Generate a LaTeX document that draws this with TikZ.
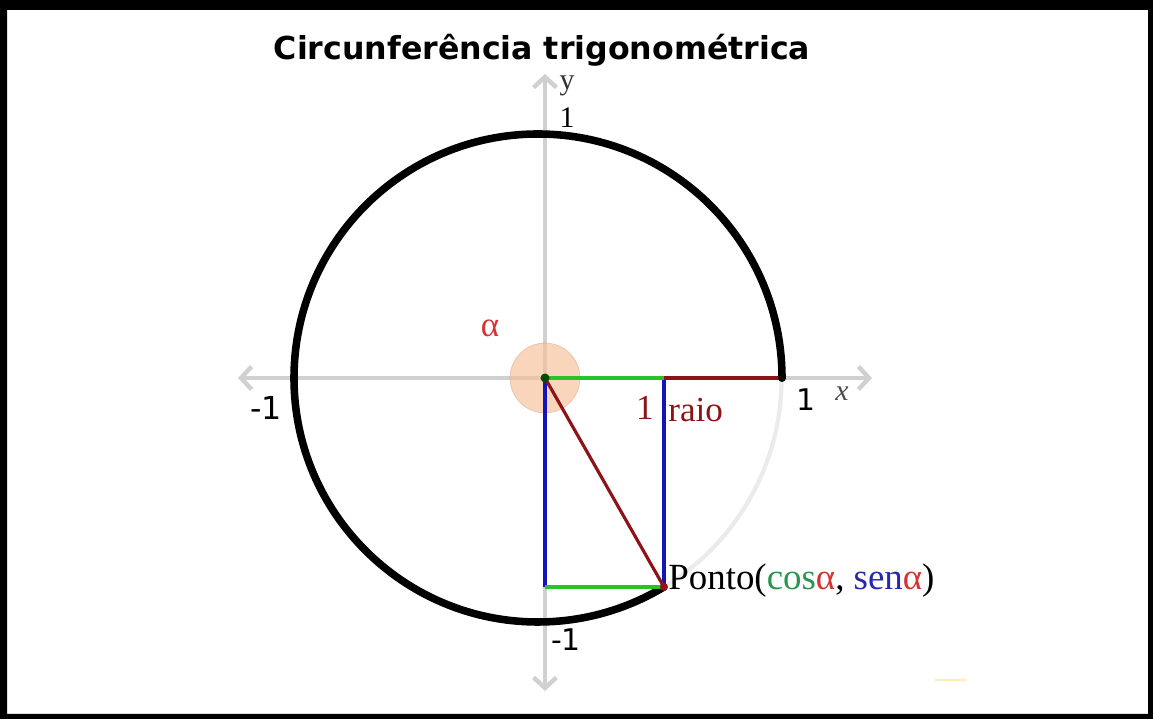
\documentclass[tikz,border=0pt]{standalone}
\usepackage{fontspec}
\setmainfont{Liberation Serif}
\newfontfamily\verd{DejaVu Sans}
\usetikzlibrary{arrows.meta}
\definecolor{axisgray}{RGB}{208,208,208}
\definecolor{raiored}{RGB}{140,20,25}
\definecolor{lblred}{RGB}{215,50,50}
\definecolor{cosgreen}{RGB}{40,195,40}
\definecolor{txtgreen}{RGB}{40,150,80}
\definecolor{senblue}{RGB}{20,20,190}
\definecolor{txtblue}{RGB}{40,40,170}
\definecolor{discfill}{RGB}{246,190,150}

\begin{document}
\begin{tikzpicture}[x=0.02cm, y=0.02cm,
  axis/.style={axisgray, line width=2.5pt, {Straight Barb[length=6pt,width=13pt]}-{Straight Barb[length=6pt,width=13pt]}},
  arcmain/.style={black, line width=4.3pt},
  arcfaint/.style={black!8, line width=2.4pt},
  cosline/.style={cosgreen, line width=2.6pt},
  senline/.style={senblue, line width=2pt},
  raioline/.style={raiored, line width=1.8pt},
  sanslbl/.style={inner sep=0pt, font=\verd\fontsize{#1}{#1}\selectfont},
  sanslbl/.default=18,
  serlbl/.style={inner sep=0pt, font=\fontsize{#1}{#1}\selectfont},
  serlbl/.default=20]
  % frame
  \fill[even odd rule] (0,0) rectangle (1153,719) (7,5) rectangle (1148,709);
  \useasboundingbox (0,0) rectangle (1153,719);
  \node[inner sep=0pt, font=\verd\bfseries\fontsize{18}{18}\selectfont] (title) at (542,669) {Circunferência trigonométrica};

  \coordinate (O) at (545,341);
  \coordinate (C) at (538,341);
  \coordinate (A) at (782,341);
  \coordinate (P) at (664,132);
  \coordinate (Q) at (664,341);
  \coordinate (S) at (545,132);
  \coordinate (xl) at (238,341);
  \coordinate (xr) at (872,341);
  \coordinate (yt) at (545,645);
  \coordinate (yb) at (545,28);

  % axes
  \draw[axis] (xl) -- (xr);
  \draw[axis] (yb) -- (yt);
  \fill[discfill, fill opacity=0.65, draw=discfill!80!black, draw opacity=0.4] (O) circle[radius=35];

  % circle
  \draw[arcfaint] (P) arc[start angle=-58.8, end angle=0, radius=244];
  \draw[arcmain] (A) arc[start angle=0, end angle=301.2, radius=244];

  % projections
  \draw[senline] (O) -- (S);
  \draw[senline] (Q) -- (P);
  \draw[cosline] (S) -- (P);
  \draw[raioline] (O) -- (P);
  \draw[raioline] (Q) -- (A);
  \draw[cosline] (O) -- (Q);
  \fill[black] (A) circle[radius=4];
  \fill[green!30!black] (O) circle[radius=4.5];
  \fill[raiored] (P) circle[radius=4];
  \fill[yellow!60!orange, opacity=0.3] (935,38) rectangle (967,40);

  % labels
  \node[serlbl, lblred] (alpha) at (490,391) {α};
  \node[serlbl, raiored] (unit) at (645,311) {1};
  \node[serlbl, raiored, anchor=west] (raio) at (668,309) {raio};
  \node[sanslbl=17] (xone) at (806,319) {1};
  \node[inner sep=0pt, black!70, font=\fontsize{17}{17}\selectfont\itshape] (xlbl) at (842,325) {x};
  \node[sanslbl] (xminus) at (266,311) {-1};
  \node[serlbl=17, black!80] (ylbl) at (567,633) {y};
  \node[serlbl=17] (yone) at (567,601) {1};
  \node[sanslbl=17] (yminus) at (566,79) {-1};
  \node[serlbl=21, anchor=base west] (ponto) at (668,129)
    {Ponto(\textcolor{txtgreen}{cos}\textcolor{lblred}{α}, \textcolor{txtblue}{sen}\textcolor{lblred}{α})};
\end{tikzpicture}
\end{document}
